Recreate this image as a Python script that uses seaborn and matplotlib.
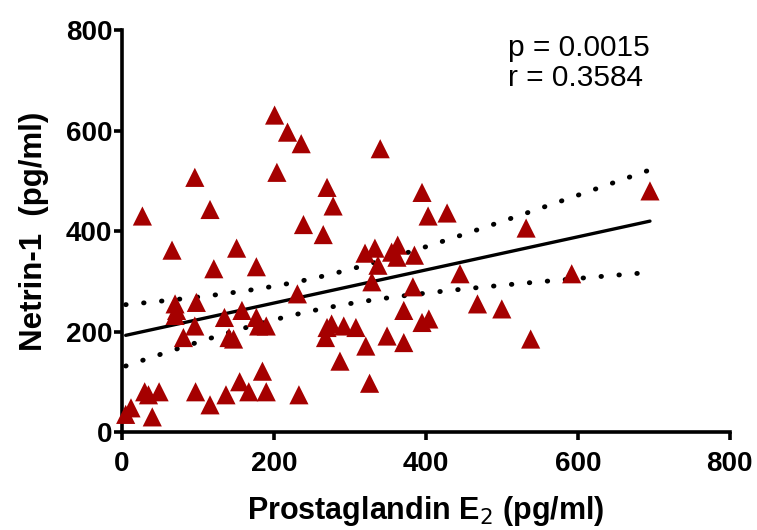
import numpy as np
import pandas as pd
import matplotlib
matplotlib.use("Agg")
import matplotlib.pyplot as plt
import seaborn as sns

# valores
pge2 = [5, 12, 27, 30, 35, 49, 40, 66, 70, 72, 70, 81, 96, 98, 96, 97,
        116, 121, 116, 135, 141, 147, 137, 151, 158, 155, 167, 177, 177, 180,
        190, 185, 190, 201, 204, 218, 236, 239, 231, 233, 270, 278, 265, 270,
        276, 268, 287, 292, 308, 321, 320, 333, 340, 337, 329, 326, 349, 355,
        363, 362, 371, 371, 385, 383, 395, 403, 395, 404, 428, 445, 468, 500,
        532, 538, 592, 695]
netrin = [35, 48, 430, 80, 74, 80, 30, 362, 255, 242, 232, 188, 507, 258, 211, 80,
          443, 325, 54, 228, 188, 185, 74, 366, 242, 100, 80, 329, 228, 211,
          211, 121, 80, 631, 517, 597, 574, 413, 275, 74, 487, 450, 393, 208,
          215, 188, 141, 211, 208, 171, 356, 366, 564, 332, 299, 97, 191, 358,
          372, 348, 242, 178, 352, 289, 477, 430, 218, 225, 436, 315, 255, 245,
          406, 185, 315, 480]
df = pd.DataFrame({"pge2": pge2, "netrin": netrin})

sns.set_style("ticks")
plt.rcParams["font.family"] = ["Liberation Sans", "DejaVu Sans"]
plt.rcParams["text.color"] = "black"
plt.rcParams["axes.labelcolor"] = "black"
plt.rcParams["xtick.color"] = "black"
plt.rcParams["ytick.color"] = "black"
plt.rcParams["axes.edgecolor"] = "black"

fig = plt.figure(figsize=(7.57, 5.30), dpi=100)
ax = fig.add_axes([0.161, 0.185, 0.803, 0.758])

sns.scatterplot(data=df, x="pge2", y="netrin", marker="^", s=190,
                color="#A50000", edgecolor="none", ax=ax, zorder=3, clip_on=False)

# regressao linear e intervalo de confianca 95%
x = df["pge2"].values
y = df["netrin"].values
n = len(x)
b, a = np.polyfit(x, y, 1)
xs = np.linspace(x.min(), x.max(), 100)
ys = a + b * xs
resid = y - (a + b * x)
se = np.sqrt(np.sum(resid ** 2) / (n - 2))
t = 1.99
band = t * se * np.sqrt(1 / n + (xs - x.mean()) ** 2 / np.sum((x - x.mean()) ** 2))
ax.plot(xs, ys, color="black", linewidth=2.4, zorder=2)
ax.plot(xs, ys + band, color="black", linewidth=3.5, linestyle=(0, (0.1, 3.6)),
        dash_capstyle="round", zorder=2)
ax.plot(xs, ys - band, color="black", linewidth=3.5, linestyle=(0, (0.1, 3.6)),
        dash_capstyle="round", zorder=2)

ax.set_xlim(0, 800)
ax.set_ylim(0, 800)
ax.set_xticks([0, 200, 400, 600, 800])
ax.set_yticks([0, 200, 400, 600, 800])
sns.despine(ax=ax)
for s in ["left", "bottom"]:
    ax.spines[s].set_linewidth(2.6)
ax.tick_params(width=2.6, length=6, labelsize=20)
ax.tick_params(axis="x", pad=8)
ax.tick_params(axis="y", pad=1)
for lab in ax.get_xticklabels() + ax.get_yticklabels():
    lab.set_fontweight("bold")

ax.set_xlabel("Prostaglandin E$_2$ (pg/ml)", fontsize=22, fontweight="bold", labelpad=12)
ax.set_ylabel("Netrin-1  (pg/ml)", fontsize=22.5, fontweight="bold", labelpad=12)

ax.text(508, 792, "p = 0.0015", fontsize=21.5, va="top")
ax.text(508, 732, "r = 0.3584", fontsize=21.5, va="top")

plt.savefig("out.png", dpi=100)
